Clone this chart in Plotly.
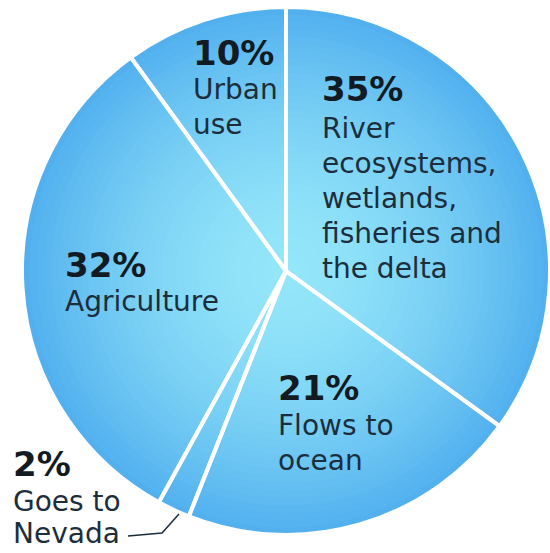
import plotly.graph_objects as go

# ---- data ----
categories = ["River ecosystems, wetlands, fisheries and the delta",
              "Flows to ocean", "Goes to Nevada", "Agriculture", "Urban use"]
shares = [35, 21, 2, 32, 10]
pct_labels = ["35%", "21%", "2%", "32%", "10%"]
desc_lines = [["River", "ecosystems,", "wetlands,", "fisheries and", "the delta"],
              ["Flows to", "ocean"],
              ["Goes to", "Nevada"],
              ["Agriculture"],
              ["Urban", "use"]]

# ---- layout constants ----
W, H = 550, 553
CX, CY, R = 286, 271, 264
# (left x, pct line y, first description line y, line step) in pixels
label_pos = [(320, 89, 128, 35), (276, 388, 425, 35), (11, 464, 501, 32),
             (63, 265, 301, 35), (191, 53, 89, 35)]

def domain_for(r):
    return dict(x=[max(0, (CX - r) / W), min(1, (CX + r) / W)],
                y=[max(0, (H - CY - r) / H), min(1, (H - CY + r) / H)])

def mix(c1, c2, t):
    return "rgb(%d,%d,%d)" % tuple(round(a + (b - a) * t) for a, b in zip(c1, c2))

EDGE = (82, 176, 238)
CENTER = (148, 230, 249)

fig = go.Figure()
N = 36
for i in range(N):
    r = R * (N - i) / N
    t = ((N - i) / N) ** 1.7
    col = mix(CENTER, EDGE, t)
    fig.add_trace(go.Pie(
        labels=categories, values=shares, sort=False, direction="clockwise",
        rotation=0, domain=domain_for(r), textinfo="none", hoverinfo="skip",
        marker=dict(colors=[col] * len(shares), line=dict(width=0)),
        showlegend=False))

# top layer: white separators
fig.add_trace(go.Pie(
    labels=categories, values=shares, sort=False, direction="clockwise",
    rotation=0, domain=domain_for(R), textinfo="none",
    marker=dict(colors=["rgba(0,0,0,0)"] * len(shares),
                line=dict(color="white", width=4)),
    showlegend=False))

annotations = []
for (x, yp, yd, step), pct, lines in zip(label_pos, pct_labels, desc_lines):
    annotations.append(dict(x=x, y=yp, xref="x", yref="y", text="<b>%s</b>" % pct,
                            showarrow=False, xanchor="left", yanchor="middle",
                            font=dict(family="DejaVu Sans", size=34, color="#121a22")))
    for k, line in enumerate(lines):
        annotations.append(dict(x=x, y=yd + k * step, xref="x", yref="y", text=line,
                                showarrow=False, xanchor="left", yanchor="middle",
                                font=dict(family="DejaVu Sans", size=28, color="#1c2d3c")))

fig.update_layout(
    width=W, height=H, margin=dict(l=0, r=0, t=0, b=0),
    paper_bgcolor="white", plot_bgcolor="rgba(0,0,0,0)",
    xaxis=dict(range=[0, W], visible=False, fixedrange=True),
    yaxis=dict(range=[H, 0], visible=False, fixedrange=True),
    annotations=annotations,
    shapes=[dict(type="path", path="M 128 536 L 162 533 L 179 514",
                 xref="x", yref="y", line=dict(color="#1c2d3c", width=1.5))],
)

fig.write_html("out.html")
